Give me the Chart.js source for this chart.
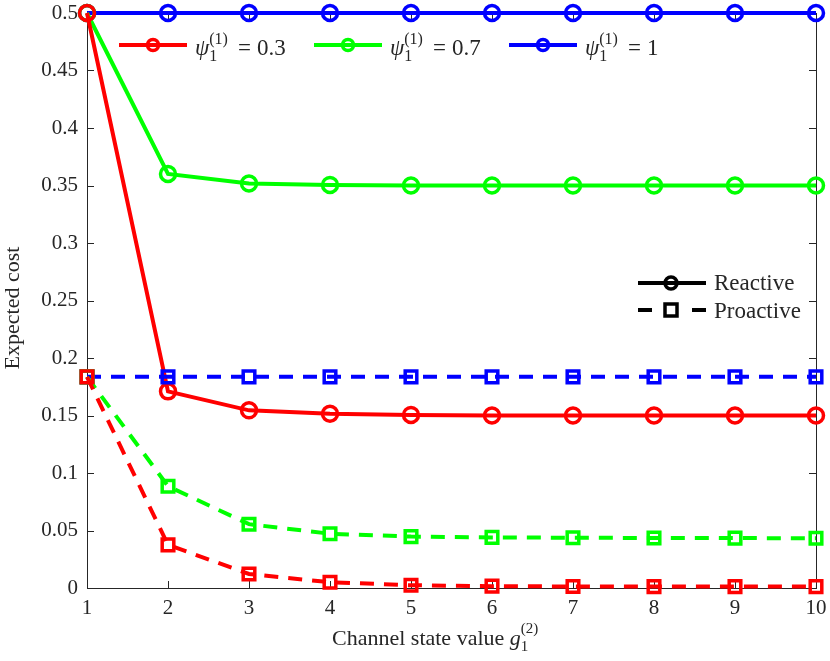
<!DOCTYPE html>
<html>
<head>
<meta charset="utf-8">
<script src="https://cdn.jsdelivr.net/npm/chart.js@4.4.0/dist/chart.umd.min.js"></script>
<style>
html, body { margin: 0; padding: 0; background: #fff; }
</style>
</head>
<body>
<canvas id="costChart" width="830" height="661"></canvas>
<script>
// channel state values g_1^(2)
const xValues = [1, 2, 3, 4, 5, 6, 7, 8, 9, 10];

// reactive curves (solid, circles)
const reactive03 = [0.5, 0.171, 0.1545, 0.1515, 0.1505, 0.150, 0.150, 0.150, 0.150, 0.150];
const reactive07 = [0.5, 0.360, 0.3517, 0.3505, 0.3500, 0.350, 0.350, 0.350, 0.350, 0.350];
const reactive1  = [0.5, 0.5, 0.5, 0.5, 0.5, 0.5, 0.5, 0.5, 0.5, 0.5];

// proactive curves (dashed, squares)
const proactive03 = [0.1836, 0.0375, 0.0122, 0.0050, 0.0024, 0.0016, 0.0013, 0.0012, 0.0012, 0.0012];
const proactive07 = [0.1836, 0.0885, 0.0555, 0.0472, 0.0447, 0.0440, 0.0437, 0.0435, 0.0434, 0.0433];
const proactive1  = [0.1836, 0.1836, 0.1836, 0.1836, 0.1836, 0.1836, 0.1836, 0.1836, 0.1836, 0.1836];

const psiLabels = ['0.3', '0.7', '1'];
const yTicks = [0, 0.05, 0.1, 0.15, 0.2, 0.25, 0.3, 0.35, 0.4, 0.45, 0.5];

const FONT = "'Liberation Serif', 'Times New Roman', serif";
const RED = '#ff0000', GREEN = '#00ff00', BLUE = '#0000ff';
const DASH = [14, 10];

function pts(arr) {
    return arr.map((v, i) => ({x: xValues[i], y: v}));
}

function line(label, arr, color, dashed) {
    return {
        label: label,
        data: pts(arr),
        borderColor: color,
        backgroundColor: 'rgba(0,0,0,0)',
        borderWidth: 4,
        borderDash: dashed ? DASH : [],
        pointStyle: dashed ? 'rect' : 'circle',
        pointRadius: dashed ? 8.2 : 7.5,
        pointBorderWidth: 3.5,
        pointBorderColor: color,
        pointBackgroundColor: 'rgba(0,0,0,0)',
        tension: 0,
        clip: false
    };
}

// write text with sub/superscripts; parts = [{t, it, size, dy, stack, gap}]
function drawMath(ctx, x, y, parts) {
    let cx = x, subStart = x, subEnd = x;
    parts.forEach(p => {
        ctx.font = (p.it ? 'italic ' : '') + p.size + 'px ' + FONT;
        cx += p.gap || 0;
        if (p.stack === 'sub') subStart = cx;
        if (p.stack === 'sup') cx = subStart;
        ctx.fillText(p.t, cx, y + (p.dy || 0));
        cx += ctx.measureText(p.t).width;
        if (p.stack === 'sub') subEnd = cx;
        if (p.stack === 'sup') cx = Math.max(cx, subEnd);
    });
    return cx;
}

const framePlugin = {
    id: 'frame',
    beforeDatasetsDraw(chart) {
        const ctx = chart.ctx, a = chart.chartArea;
        const xs = chart.scales.x, ys = chart.scales.y;
        ctx.save();
        ctx.strokeStyle = '#262626';
        ctx.lineWidth = 1;
        ctx.strokeRect(Math.round(a.left) + 0.5, Math.round(a.top) + 0.5,
            Math.round(a.right - a.left), Math.round(a.bottom - a.top));
        ctx.beginPath();
        xValues.forEach(v => {
            const px = Math.round(xs.getPixelForValue(v)) + 0.5;
            ctx.moveTo(px, a.bottom); ctx.lineTo(px, a.bottom - 7);
            ctx.moveTo(px, a.top); ctx.lineTo(px, a.top + 7);
        });
        yTicks.forEach(v => {
            const py = Math.round(ys.getPixelForValue(v)) + 0.5;
            ctx.moveTo(a.left, py); ctx.lineTo(a.left + 7, py);
            ctx.moveTo(a.right, py); ctx.lineTo(a.right - 7, py);
        });
        ctx.stroke();
        ctx.restore();
    },
    afterDraw(chart) {
        const ctx = chart.ctx;
        ctx.save();
        ctx.fillStyle = '#262626';
        ctx.textBaseline = 'alphabetic';

        // top legend
        const colors = [RED, GREEN, BLUE];
        const starts = [119, 314, 509];
        const ly = 45;
        colors.forEach((c, i) => {
            const x0 = starts[i];
            ctx.strokeStyle = c;
            ctx.lineWidth = 4;
            ctx.setLineDash([]);
            ctx.beginPath(); ctx.moveTo(x0, ly); ctx.lineTo(x0 + 68, ly); ctx.stroke();
            ctx.lineWidth = 3.5;
            ctx.beginPath(); ctx.arc(x0 + 34, ly, 5.5, 0, Math.PI * 2); ctx.stroke();
            ctx.fillStyle = '#262626';
            drawMath(ctx, x0 + 76, ly + 10, [
                {t: '\u03c8', it: true, size: 23},
                {t: '1', size: 16, dy: 6, stack: 'sub'},
                {t: '(1)', size: 16, dy: -11, stack: 'sup'},
                {t: '=', size: 23, gap: 10},
                {t: psiLabels[i], size: 23, gap: 6}
            ]);
        });

        // style legend
        ctx.strokeStyle = '#000';
        ctx.lineWidth = 4;
        ctx.beginPath(); ctx.moveTo(638, 283); ctx.lineTo(706, 283); ctx.stroke();
        ctx.lineWidth = 3.5;
        ctx.beginPath(); ctx.arc(671, 283, 6, 0, Math.PI * 2); ctx.stroke();
        ctx.lineWidth = 4;
        ctx.setLineDash([14, 40]);
        ctx.beginPath(); ctx.moveTo(638, 310); ctx.lineTo(706, 310); ctx.stroke();
        ctx.setLineDash([]);
        ctx.lineWidth = 3.5;
        ctx.strokeRect(665, 304, 12, 12);
        ctx.font = '23px ' + FONT;
        ctx.fillText('Reactive', 714, 290);
        ctx.fillText('Proactive', 714, 318);

        // axis titles
        drawMath(ctx, 332, 645, [
            {t: 'Channel state value ', size: 22},
            {t: 'g', it: true, size: 22},
            {t: '1', size: 15, dy: 6, stack: 'sub'},
            {t: '(2)', size: 15, dy: -12, stack: 'sup'}
        ]);
        ctx.translate(19, 308);
        ctx.rotate(-Math.PI / 2);
        ctx.textAlign = 'center';
        ctx.font = '22px ' + FONT;
        ctx.fillText('Expected cost', 0, 0);
        ctx.restore();
    }
};

const data = {
    datasets: [
        line('proactive 0.3', proactive03, RED, true),
        line('proactive 0.7', proactive07, GREEN, true),
        line('proactive 1', proactive1, BLUE, true),
        line('reactive 0.3', reactive03, RED, false),
        line('reactive 0.7', reactive07, GREEN, false),
        line('reactive 1', reactive1, BLUE, false)
    ]
};

const config = {
    type: 'line',
    data: data,
    plugins: [framePlugin],
    options: {
        responsive: false,
        animation: false,
        devicePixelRatio: 1,
        layout: { autoPadding: false, padding: { left: 0, right: 14, top: 13, bottom: 0 } },
        plugins: { legend: { display: false }, tooltip: { enabled: false } },
        scales: {
            x: {
                type: 'linear', min: 1, max: 10,
                grid: { display: false, drawTicks: false }, border: { display: false },
                ticks: { stepSize: 1, padding: 8, color: '#262626', font: { family: FONT, size: 21 } },
                afterFit: s => { s.height = 73; s.paddingLeft = 0; s.paddingRight = 0; }
            },
            y: {
                min: 0, max: 0.5,
                grid: { display: false, drawTicks: false }, border: { display: false },
                ticks: {
                    stepSize: 0.05, padding: 9, color: '#262626',
                    font: { family: FONT, size: 21 },
                    callback: v => String(+v.toFixed(2))
                },
                afterFit: s => { s.width = 87; s.paddingTop = 0; s.paddingBottom = 0; }
            }
        }
    }
};

const ctx = document.getElementById('costChart').getContext('2d');
new Chart(ctx, config);
</script>
</body>
</html>
